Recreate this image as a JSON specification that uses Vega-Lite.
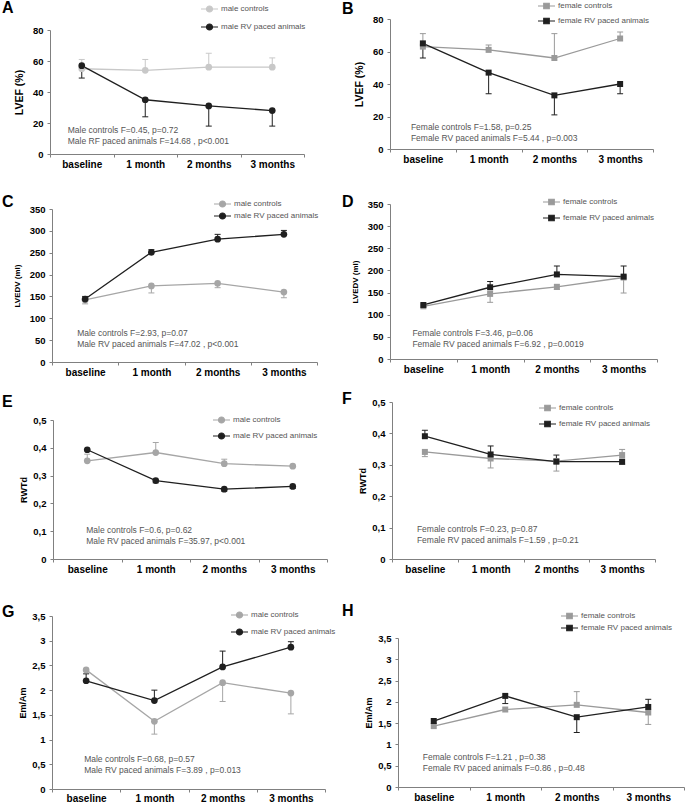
{
  "$schema": "https://vega.github.io/schema/vega-lite/v6.json",
  "padding": 0,
  "background": "white",
  "columns": 2,
  "spacing": 0,
  "bounds": "flush",
  "align": "each",
  "resolve": {"scale": {"color": "independent", "x": "independent", "y": "independent"}, "legend": {"color": "independent"}},
  "datasets": {
    "A": [
      {"time": "baseline", "group": "male controls", "mean": 55, "err": 61},
      {"time": "1 month", "group": "male controls", "mean": 54, "err": 61},
      {"time": "2 months", "group": "male controls", "mean": 56, "err": 65},
      {"time": "3 months", "group": "male controls", "mean": 56, "err": 62},
      {"time": "baseline", "group": "male RV paced animals", "mean": 57, "err": 49},
      {"time": "1 month", "group": "male RV paced animals", "mean": 35, "err": 24},
      {"time": "2 months", "group": "male RV paced animals", "mean": 31, "err": 18},
      {"time": "3 months", "group": "male RV paced animals", "mean": 28, "err": 18}
    ],
    "B": [
      {"time": "baseline", "group": "female controls", "mean": 63, "err": 71},
      {"time": "1 month", "group": "female controls", "mean": 61, "err": 64},
      {"time": "2 months", "group": "female controls", "mean": 56, "err": 71},
      {"time": "3 months", "group": "female controls", "mean": 68, "err": 72},
      {"time": "baseline", "group": "female RV paced animals", "mean": 65, "err": 56},
      {"time": "1 month", "group": "female RV paced animals", "mean": 47, "err": 34},
      {"time": "2 months", "group": "female RV paced animals", "mean": 33, "err": 21},
      {"time": "3 months", "group": "female RV paced animals", "mean": 40, "err": 34}
    ],
    "C": [
      {"time": "baseline", "group": "male controls", "mean": 142, "err": 133},
      {"time": "1 month", "group": "male controls", "mean": 174, "err": 158},
      {"time": "2 months", "group": "male controls", "mean": 180, "err": 170},
      {"time": "3 months", "group": "male controls", "mean": 160, "err": 147},
      {"time": "baseline", "group": "male RV paced animals", "mean": 144, "err": 150},
      {"time": "1 month", "group": "male RV paced animals", "mean": 251, "err": 257},
      {"time": "2 months", "group": "male RV paced animals", "mean": 281, "err": 292},
      {"time": "3 months", "group": "male RV paced animals", "mean": 292, "err": 301}
    ],
    "D": [
      {"time": "baseline", "group": "female controls", "mean": 119, "err": null},
      {"time": "1 month", "group": "female controls", "mean": 147, "err": 128},
      {"time": "2 months", "group": "female controls", "mean": 163, "err": 157},
      {"time": "3 months", "group": "female controls", "mean": 184, "err": 149},
      {"time": "baseline", "group": "female RV paced animals", "mean": 122, "err": null},
      {"time": "1 month", "group": "female RV paced animals", "mean": 162, "err": 175},
      {"time": "2 months", "group": "female RV paced animals", "mean": 191, "err": 210},
      {"time": "3 months", "group": "female RV paced animals", "mean": 186, "err": 210}
    ],
    "E": [
      {"time": "baseline", "group": "male controls", "mean": 0.353, "err": 0.377},
      {"time": "1 month", "group": "male controls", "mean": 0.383, "err": 0.419},
      {"time": "2 months", "group": "male controls", "mean": 0.343, "err": 0.359},
      {"time": "3 months", "group": "male controls", "mean": 0.334, "err": 0.337},
      {"time": "baseline", "group": "male RV paced animals", "mean": 0.393, "err": null},
      {"time": "1 month", "group": "male RV paced animals", "mean": 0.282, "err": 0.274},
      {"time": "2 months", "group": "male RV paced animals", "mean": 0.251, "err": 0.244},
      {"time": "3 months", "group": "male RV paced animals", "mean": 0.261, "err": 0.254}
    ],
    "F": [
      {"time": "baseline", "group": "female controls", "mean": 0.341, "err": 0.326},
      {"time": "1 month", "group": "female controls", "mean": 0.320, "err": 0.290},
      {"time": "2 months", "group": "female controls", "mean": 0.312, "err": 0.280},
      {"time": "3 months", "group": "female controls", "mean": 0.331, "err": 0.349},
      {"time": "baseline", "group": "female RV paced animals", "mean": 0.391, "err": 0.410},
      {"time": "1 month", "group": "female RV paced animals", "mean": 0.333, "err": 0.360},
      {"time": "2 months", "group": "female RV paced animals", "mean": 0.310, "err": 0.331},
      {"time": "3 months", "group": "female RV paced animals", "mean": 0.310, "err": 0.302}
    ],
    "G": [
      {"time": "baseline", "group": "male controls", "mean": 2.41, "err": null},
      {"time": "1 month", "group": "male controls", "mean": 1.37, "err": 1.11},
      {"time": "2 months", "group": "male controls", "mean": 2.15, "err": 1.77},
      {"time": "3 months", "group": "male controls", "mean": 1.94, "err": 1.52},
      {"time": "baseline", "group": "male RV paced animals", "mean": 2.19, "err": 2.33},
      {"time": "1 month", "group": "male RV paced animals", "mean": 1.79, "err": 2.0},
      {"time": "2 months", "group": "male RV paced animals", "mean": 2.47, "err": 2.79},
      {"time": "3 months", "group": "male RV paced animals", "mean": 2.87, "err": 2.98}
    ],
    "H": [
      {"time": "baseline", "group": "female controls", "mean": 1.43, "err": null},
      {"time": "1 month", "group": "female controls", "mean": 1.82, "err": null},
      {"time": "2 months", "group": "female controls", "mean": 1.93, "err": 2.24},
      {"time": "3 months", "group": "female controls", "mean": 1.75, "err": 1.47},
      {"time": "baseline", "group": "female RV paced animals", "mean": 1.55, "err": null},
      {"time": "1 month", "group": "female RV paced animals", "mean": 2.14, "err": 1.96},
      {"time": "2 months", "group": "female RV paced animals", "mean": 1.64, "err": 1.28},
      {"time": "3 months", "group": "female RV paced animals", "mean": 1.88, "err": 2.06}
    ]
  },
  "concat": [
    {
      "width": 342, "height": 190,
      "title": {"text": "A", "anchor": "start", "frame": "group", "offset": -16, "dx": 2},
      "data": {"name": "A"},
      "encoding": {
        "x": {"field": "time", "type": "ordinal", "sort": ["baseline", "1 month", "2 months", "3 months"],
              "scale": {"type": "band", "paddingInner": 0, "paddingOuter": 0, "range": [50, 304]},
              "axis": {"offset": -36, "title": null, "tickBand": "extent", "labelAngle": 0}},
        "color": {"field": "group", "type": "nominal",
                  "scale": {"domain": ["male controls", "male RV paced animals"], "range": ["#c8c8c8", "#1f1f1f"]},
                  "legend": {"orient": "none", "legendX": 203.5, "legendY": 3, "title": null, "rowPadding": 6,
                             "symbolType": "M-1.7,0H1.7M0.6,0A0.6,0.6,0,1,1,-0.6,0A0.6,0.6,0,1,1,0.6,0Z",
                             "encode": {"symbols": {"update": {"fill": {"signal": "indexof(datum.value,'controls')>=0?'#c8c8c8':'#1f1f1f'"}, "stroke": {"signal": "indexof(datum.value,'controls')>=0?'#c8c8c8':'#1f1f1f'"}, "strokeWidth": {"value": 1.2}, "opacity": {"value": 1}}}}}}
      },
      "layer": [
        {"mark": {"type": "line", "strokeWidth": 1.3},
         "encoding": {"y": {"field": "mean", "type": "quantitative", "scale": {"domain": [0, 80], "range": [154, 30]},
                            "axis": {"offset": -50, "values": [0, 20, 40, 60, 80], "tickCount": 20, "title": "LVEF (%)", "titleFontSize": 10.5}},
                      "order": {"value": null}}},
        {"transform": [{"filter": "isValid(datum.err)"}], "mark": {"type": "rule", "strokeWidth": 1},
         "encoding": {"y": {"field": "mean", "type": "quantitative"}, "y2": {"field": "err"}}},
        {"transform": [{"filter": "isValid(datum.err)"}], "mark": {"type": "tick", "size": 6, "thickness": 1, "opacity": 1},
         "encoding": {"y": {"field": "err", "type": "quantitative"}}},
        {"mark": {"type": "point", "filled": true, "shape": "circle", "size": 45, "opacity": 1},
         "encoding": {"y": {"field": "mean", "type": "quantitative"}}},
        {"data": {"values": [{"note": "Male controls F=0.45, p=0.72\nMale RF paced animals F=14.68 , p<0.001"}]},
         "mark": {"type": "text", "lineBreak": "\n", "align": "left", "baseline": "top", "dx": -14, "fontSize": 8.5, "lineHeight": 11, "color": "#555555"},
         "encoding": {"x": {"datum": "baseline"}, "y": {"datum": 18}, "text": {"field": "note"}, "color": {"value": "#555555"}}}
      ]
    },
    {
      "width": 343, "height": 190,
      "title": {"text": "B", "anchor": "start", "frame": "group", "offset": -17, "dx": 0},
      "data": {"name": "B"},
      "encoding": {
        "x": {"field": "time", "type": "ordinal", "sort": ["baseline", "1 month", "2 months", "3 months"],
              "scale": {"type": "band", "paddingInner": 0, "paddingOuter": 0, "range": [48, 311]},
              "axis": {"offset": -41, "title": null, "tickBand": "extent", "labelAngle": 0}},
        "color": {"field": "group", "type": "nominal",
                  "scale": {"domain": ["female controls", "female RV paced animals"], "range": ["#9a9a9a", "#1f1f1f"]},
                  "legend": {"orient": "none", "legendX": 198.5, "legendY": 0, "title": null, "rowPadding": 3,
                             "symbolType": "M-1.7,0H1.7M-0.55,-0.55H0.55V0.55H-0.55Z",
                             "encode": {"symbols": {"update": {"fill": {"signal": "indexof(datum.value,'controls')>=0?'#9a9a9a':'#1f1f1f'"}, "stroke": {"signal": "indexof(datum.value,'controls')>=0?'#9a9a9a':'#1f1f1f'"}, "strokeWidth": {"value": 1.2}, "opacity": {"value": 1}}}}}}
      },
      "layer": [
        {"mark": {"type": "line", "strokeWidth": 1.3},
         "encoding": {"y": {"field": "mean", "type": "quantitative", "scale": {"domain": [0, 80], "range": [149, 19]},
                            "axis": {"offset": -48, "values": [0, 20, 40, 60, 80], "tickCount": 20, "title": "LVEF (%)", "titleFontSize": 10.5}},
                      "order": {"value": null}}},
        {"transform": [{"filter": "isValid(datum.err)"}], "mark": {"type": "rule", "strokeWidth": 1},
         "encoding": {"y": {"field": "mean", "type": "quantitative"}, "y2": {"field": "err"}}},
        {"transform": [{"filter": "isValid(datum.err)"}], "mark": {"type": "tick", "size": 6, "thickness": 1, "opacity": 1},
         "encoding": {"y": {"field": "err", "type": "quantitative"}}},
        {"mark": {"type": "point", "filled": true, "shape": "square", "size": 36, "opacity": 1},
         "encoding": {"y": {"field": "mean", "type": "quantitative"}}},
        {"data": {"values": [{"note": "Female controls F=1.58, p=0.25\nFemale RV paced animals F=5.44 , p=0.003"}]},
         "mark": {"type": "text", "lineBreak": "\n", "align": "left", "baseline": "top", "dx": -12, "fontSize": 8.5, "lineHeight": 11, "color": "#555555"},
         "encoding": {"x": {"datum": "baseline"}, "y": {"datum": 16}, "text": {"field": "note"}, "color": {"value": "#555555"}}}
      ]
    },
    {
      "width": 342, "height": 200,
      "title": {"text": "C", "anchor": "start", "frame": "group", "offset": -20, "dx": 2},
      "data": {"name": "C"},
      "encoding": {
        "x": {"field": "time", "type": "ordinal", "sort": ["baseline", "1 month", "2 months", "3 months"],
              "scale": {"type": "band", "paddingInner": 0, "paddingOuter": 0, "range": [52, 317]},
              "axis": {"offset": -28, "title": null, "tickBand": "extent", "labelAngle": 0}},
        "color": {"field": "group", "type": "nominal",
                  "scale": {"domain": ["male controls", "male RV paced animals"], "range": ["#a6a6a6", "#1f1f1f"]},
                  "legend": {"orient": "none", "legendX": 216.5, "legendY": 8, "title": null, "rowPadding": -1,
                             "symbolType": "M-1.7,0H1.7M0.6,0A0.6,0.6,0,1,1,-0.6,0A0.6,0.6,0,1,1,0.6,0Z",
                             "encode": {"symbols": {"update": {"fill": {"signal": "indexof(datum.value,'controls')>=0?'#a6a6a6':'#1f1f1f'"}, "stroke": {"signal": "indexof(datum.value,'controls')>=0?'#a6a6a6':'#1f1f1f'"}, "strokeWidth": {"value": 1.2}, "opacity": {"value": 1}}}}}}
      },
      "layer": [
        {"mark": {"type": "line", "strokeWidth": 1.3},
         "encoding": {"y": {"field": "mean", "type": "quantitative", "scale": {"domain": [0, 350], "range": [172, 19]},
                            "axis": {"offset": -52, "values": [0, 50, 100, 150, 200, 250, 300, 350], "tickCount": 20, "title": "LVEDV (ml)", "titleFontSize": 8}},
                      "order": {"value": null}}},
        {"transform": [{"filter": "isValid(datum.err)"}], "mark": {"type": "rule", "strokeWidth": 1},
         "encoding": {"y": {"field": "mean", "type": "quantitative"}, "y2": {"field": "err"}}},
        {"transform": [{"filter": "isValid(datum.err)"}], "mark": {"type": "tick", "size": 6, "thickness": 1, "opacity": 1},
         "encoding": {"y": {"field": "err", "type": "quantitative"}}},
        {"mark": {"type": "point", "filled": true, "shape": "circle", "size": 45, "opacity": 1},
         "encoding": {"y": {"field": "mean", "type": "quantitative"}}},
        {"data": {"values": [{"note": "Male controls F=2.93, p=0.07\nMale RV paced animals F=47.02 , p<0.001"}]},
         "mark": {"type": "text", "lineBreak": "\n", "align": "left", "baseline": "top", "dx": -8, "fontSize": 8.5, "lineHeight": 11, "color": "#555555"},
         "encoding": {"x": {"datum": "baseline"}, "y": {"datum": 76}, "text": {"field": "note"}, "color": {"value": "#555555"}}}
      ]
    },
    {
      "width": 343, "height": 200,
      "title": {"text": "D", "anchor": "start", "frame": "group", "offset": -20, "dx": 0},
      "data": {"name": "D"},
      "encoding": {
        "x": {"field": "time", "type": "ordinal", "sort": ["baseline", "1 month", "2 months", "3 months"],
              "scale": {"type": "band", "paddingInner": 0, "paddingOuter": 0, "range": [48, 315]},
              "axis": {"offset": -31, "title": null, "tickBand": "extent", "labelAngle": 0}},
        "color": {"field": "group", "type": "nominal",
                  "scale": {"domain": ["female controls", "female RV paced animals"], "range": ["#9a9a9a", "#1f1f1f"]},
                  "legend": {"orient": "none", "legendX": 203.5, "legendY": 6, "title": null, "rowPadding": 4,
                             "symbolType": "M-1.7,0H1.7M-0.55,-0.55H0.55V0.55H-0.55Z",
                             "encode": {"symbols": {"update": {"fill": {"signal": "indexof(datum.value,'controls')>=0?'#9a9a9a':'#1f1f1f'"}, "stroke": {"signal": "indexof(datum.value,'controls')>=0?'#9a9a9a':'#1f1f1f'"}, "strokeWidth": {"value": 1.2}, "opacity": {"value": 1}}}}}}
      },
      "layer": [
        {"mark": {"type": "line", "strokeWidth": 1.3},
         "encoding": {"y": {"field": "mean", "type": "quantitative", "scale": {"domain": [0, 350], "range": [169, 14]},
                            "axis": {"offset": -48, "values": [0, 50, 100, 150, 200, 250, 300, 350], "tickCount": 20, "title": "LVEDV (ml)", "titleFontSize": 8}},
                      "order": {"value": null}}},
        {"transform": [{"filter": "isValid(datum.err)"}], "mark": {"type": "rule", "strokeWidth": 1},
         "encoding": {"y": {"field": "mean", "type": "quantitative"}, "y2": {"field": "err"}}},
        {"transform": [{"filter": "isValid(datum.err)"}], "mark": {"type": "tick", "size": 6, "thickness": 1, "opacity": 1},
         "encoding": {"y": {"field": "err", "type": "quantitative"}}},
        {"mark": {"type": "point", "filled": true, "shape": "square", "size": 36, "opacity": 1},
         "encoding": {"y": {"field": "mean", "type": "quantitative"}}},
        {"data": {"values": [{"note": "Female controls F=3.46, p=0.06\nFemale RV paced animals F=6.92 , p=0.0019"}]},
         "mark": {"type": "text", "lineBreak": "\n", "align": "left", "baseline": "top", "dx": -11, "fontSize": 8.5, "lineHeight": 11, "color": "#555555"},
         "encoding": {"x": {"datum": "baseline"}, "y": {"datum": 68}, "text": {"field": "note"}, "color": {"value": "#555555"}}}
      ]
    },
    {
      "width": 342, "height": 210,
      "title": {"text": "E", "anchor": "start", "frame": "group", "offset": -20, "dx": 2},
      "data": {"name": "E"},
      "encoding": {
        "x": {"field": "time", "type": "ordinal", "sort": ["baseline", "1 month", "2 months", "3 months"],
              "scale": {"type": "band", "paddingInner": 0, "paddingOuter": 0, "range": [53, 327]},
              "axis": {"offset": -41, "title": null, "tickBand": "extent", "labelAngle": 0}},
        "color": {"field": "group", "type": "nominal",
                  "scale": {"domain": ["male controls", "male RV paced animals"], "range": ["#a6a6a6", "#1f1f1f"]},
                  "legend": {"orient": "none", "legendX": 215.5, "legendY": 24, "title": null, "rowPadding": 4,
                             "symbolType": "M-1.7,0H1.7M0.6,0A0.6,0.6,0,1,1,-0.6,0A0.6,0.6,0,1,1,0.6,0Z",
                             "encode": {"symbols": {"update": {"fill": {"signal": "indexof(datum.value,'controls')>=0?'#a6a6a6':'#1f1f1f'"}, "stroke": {"signal": "indexof(datum.value,'controls')>=0?'#a6a6a6':'#1f1f1f'"}, "strokeWidth": {"value": 1.2}, "opacity": {"value": 1}}}}}}
      },
      "layer": [
        {"mark": {"type": "line", "strokeWidth": 1.3},
         "encoding": {"y": {"field": "mean", "type": "quantitative", "scale": {"domain": [0, 0.5], "range": [169, 30]},
                            "axis": {"offset": -53, "values": [0, 0.1, 0.2, 0.3, 0.4, 0.5], "tickCount": 20, "labelExpr": "replace(toString(datum.value), '.', ',')", "title": "RWTd", "titleFontSize": 9, "titlePadding": 4}},
                      "order": {"value": null}}},
        {"transform": [{"filter": "isValid(datum.err)"}], "mark": {"type": "rule", "strokeWidth": 1},
         "encoding": {"y": {"field": "mean", "type": "quantitative"}, "y2": {"field": "err"}}},
        {"transform": [{"filter": "isValid(datum.err)"}], "mark": {"type": "tick", "size": 6, "thickness": 1, "opacity": 1},
         "encoding": {"y": {"field": "err", "type": "quantitative"}}},
        {"mark": {"type": "point", "filled": true, "shape": "circle", "size": 45, "opacity": 1},
         "encoding": {"y": {"field": "mean", "type": "quantitative"}}},
        {"data": {"values": [{"note": "Male controls F=0.6, p=0.62\nMale RV paced animals F=35.97, p<0.001"}]},
         "mark": {"type": "text", "lineBreak": "\n", "align": "left", "baseline": "top", "dx": -1, "fontSize": 8.5, "lineHeight": 11, "color": "#555555"},
         "encoding": {"x": {"datum": "baseline"}, "y": {"datum": 0.119}, "text": {"field": "note"}, "color": {"value": "#555555"}}}
      ]
    },
    {
      "width": 343, "height": 210,
      "title": {"text": "F", "anchor": "start", "frame": "group", "offset": -17, "dx": 0},
      "data": {"name": "F"},
      "encoding": {
        "x": {"field": "time", "type": "ordinal", "sort": ["baseline", "1 month", "2 months", "3 months"],
              "scale": {"type": "band", "paddingInner": 0, "paddingOuter": 0, "range": [50, 313]},
              "axis": {"offset": -41, "title": null, "tickBand": "extent", "labelAngle": 0}},
        "color": {"field": "group", "type": "nominal",
                  "scale": {"domain": ["female controls", "female RV paced animals"], "range": ["#9a9a9a", "#1f1f1f"]},
                  "legend": {"orient": "none", "legendX": 199.5, "legendY": 12, "title": null, "rowPadding": 4,
                             "symbolType": "M-1.7,0H1.7M-0.55,-0.55H0.55V0.55H-0.55Z",
                             "encode": {"symbols": {"update": {"fill": {"signal": "indexof(datum.value,'controls')>=0?'#9a9a9a':'#1f1f1f'"}, "stroke": {"signal": "indexof(datum.value,'controls')>=0?'#9a9a9a':'#1f1f1f'"}, "strokeWidth": {"value": 1.2}, "opacity": {"value": 1}}}}}}
      },
      "layer": [
        {"mark": {"type": "line", "strokeWidth": 1.3},
         "encoding": {"y": {"field": "mean", "type": "quantitative", "scale": {"domain": [0, 0.5], "range": [169, 12]},
                            "axis": {"offset": -50, "values": [0, 0.1, 0.2, 0.3, 0.4, 0.5], "tickCount": 20, "labelExpr": "replace(toString(datum.value), '.', ',')", "title": "RWTd", "titleFontSize": 9, "titlePadding": 4}},
                      "order": {"value": null}}},
        {"transform": [{"filter": "isValid(datum.err)"}], "mark": {"type": "rule", "strokeWidth": 1},
         "encoding": {"y": {"field": "mean", "type": "quantitative"}, "y2": {"field": "err"}}},
        {"transform": [{"filter": "isValid(datum.err)"}], "mark": {"type": "tick", "size": 6, "thickness": 1, "opacity": 1},
         "encoding": {"y": {"field": "err", "type": "quantitative"}}},
        {"mark": {"type": "point", "filled": true, "shape": "square", "size": 36, "opacity": 1},
         "encoding": {"y": {"field": "mean", "type": "quantitative"}}},
        {"data": {"values": [{"note": "Female controls F=0.23, p=0.87\nFemale RV paced animals F=1.59 , p=0.21"}]},
         "mark": {"type": "text", "lineBreak": "\n", "align": "left", "baseline": "top", "dx": -8, "fontSize": 8.5, "lineHeight": 11, "color": "#555555"},
         "encoding": {"x": {"datum": "baseline"}, "y": {"datum": 0.108}, "text": {"field": "note"}, "color": {"value": "#555555"}}}
      ]
    },
    {
      "width": 342, "height": 207,
      "title": {"text": "G", "anchor": "start", "frame": "group", "offset": -20, "dx": 2},
      "data": {"name": "G"},
      "encoding": {
        "x": {"field": "time", "type": "ordinal", "sort": ["baseline", "1 month", "2 months", "3 months"],
              "scale": {"type": "band", "paddingInner": 0, "paddingOuter": 0, "range": [52, 325]},
              "axis": {"offset": -18, "title": null, "tickBand": "extent", "labelAngle": 0, "labelPadding": 1}},
        "color": {"field": "group", "type": "nominal",
                  "scale": {"domain": ["male controls", "male RV paced animals"], "range": ["#a6a6a6", "#1f1f1f"]},
                  "legend": {"orient": "none", "legendX": 233.5, "legendY": 9, "title": null, "rowPadding": 5,
                             "symbolType": "M-1.7,0H1.7M0.6,0A0.6,0.6,0,1,1,-0.6,0A0.6,0.6,0,1,1,0.6,0Z",
                             "encode": {"symbols": {"update": {"fill": {"signal": "indexof(datum.value,'controls')>=0?'#a6a6a6':'#1f1f1f'"}, "stroke": {"signal": "indexof(datum.value,'controls')>=0?'#a6a6a6':'#1f1f1f'"}, "strokeWidth": {"value": 1.2}, "opacity": {"value": 1}}}}}}
      },
      "layer": [
        {"mark": {"type": "line", "strokeWidth": 1.3},
         "encoding": {"y": {"field": "mean", "type": "quantitative", "scale": {"domain": [0, 3.5], "range": [189, 16]},
                            "axis": {"offset": -52, "values": [0, 0.5, 1, 1.5, 2, 2.5, 3, 3.5], "tickCount": 20, "labelExpr": "replace(toString(datum.value), '.', ',')", "title": "Em/Am", "titleFontSize": 9, "titlePadding": 4}},
                      "order": {"value": null}}},
        {"transform": [{"filter": "isValid(datum.err)"}], "mark": {"type": "rule", "strokeWidth": 1},
         "encoding": {"y": {"field": "mean", "type": "quantitative"}, "y2": {"field": "err"}}},
        {"transform": [{"filter": "isValid(datum.err)"}], "mark": {"type": "tick", "size": 6, "thickness": 1, "opacity": 1},
         "encoding": {"y": {"field": "err", "type": "quantitative"}}},
        {"mark": {"type": "point", "filled": true, "shape": "circle", "size": 45, "opacity": 1},
         "encoding": {"y": {"field": "mean", "type": "quantitative"}}},
        {"data": {"values": [{"note": "Male controls F=0.68, p=0.57\nMale RV paced animals F=3.89 , p=0.013"}]},
         "mark": {"type": "text", "lineBreak": "\n", "align": "left", "baseline": "top", "dx": -2, "fontSize": 8.5, "lineHeight": 11, "color": "#555555"},
         "encoding": {"x": {"datum": "baseline"}, "y": {"datum": 0.68}, "text": {"field": "note"}, "color": {"value": "#555555"}}}
      ]
    },
    {
      "width": 343, "height": 207,
      "title": {"text": "H", "anchor": "start", "frame": "group", "offset": -19, "dx": 0},
      "data": {"name": "H"},
      "encoding": {
        "x": {"field": "time", "type": "ordinal", "sort": ["baseline", "1 month", "2 months", "3 months"],
              "scale": {"type": "band", "paddingInner": 0, "paddingOuter": 0, "range": [56, 342]},
              "axis": {"offset": -20, "title": null, "tickBand": "extent", "labelAngle": 0}},
        "color": {"field": "group", "type": "nominal",
                  "scale": {"domain": ["female controls", "female RV paced animals"], "range": ["#9a9a9a", "#1f1f1f"]},
                  "legend": {"orient": "none", "legendX": 221.5, "legendY": 10, "title": null, "rowPadding": 0,
                             "symbolType": "M-1.7,0H1.7M-0.55,-0.55H0.55V0.55H-0.55Z",
                             "encode": {"symbols": {"update": {"fill": {"signal": "indexof(datum.value,'controls')>=0?'#9a9a9a':'#1f1f1f'"}, "stroke": {"signal": "indexof(datum.value,'controls')>=0?'#9a9a9a':'#1f1f1f'"}, "strokeWidth": {"value": 1.2}, "opacity": {"value": 1}}}}}}
      },
      "layer": [
        {"mark": {"type": "line", "strokeWidth": 1.3},
         "encoding": {"y": {"field": "mean", "type": "quantitative", "scale": {"domain": [0, 3.5], "range": [187, 38]},
                            "axis": {"offset": -56, "values": [0, 0.5, 1, 1.5, 2, 2.5, 3, 3.5], "tickCount": 20, "labelExpr": "replace(toString(datum.value), '.', ',')", "title": "Em/Am", "titleFontSize": 9, "titlePadding": 4}},
                      "order": {"value": null}}},
        {"transform": [{"filter": "isValid(datum.err)"}], "mark": {"type": "rule", "strokeWidth": 1},
         "encoding": {"y": {"field": "mean", "type": "quantitative"}, "y2": {"field": "err"}}},
        {"transform": [{"filter": "isValid(datum.err)"}], "mark": {"type": "tick", "size": 6, "thickness": 1, "opacity": 1},
         "encoding": {"y": {"field": "err", "type": "quantitative"}}},
        {"mark": {"type": "point", "filled": true, "shape": "square", "size": 36, "opacity": 1},
         "encoding": {"y": {"field": "mean", "type": "quantitative"}}},
        {"data": {"values": [{"note": "Female controls F=1.21 , p=0.38\nFemale RV paced animals F=0.86 , p=0.48"}]},
         "mark": {"type": "text", "lineBreak": "\n", "align": "left", "baseline": "top", "dx": -11, "fontSize": 8.5, "lineHeight": 11, "color": "#555555"},
         "encoding": {"x": {"datum": "baseline"}, "y": {"datum": 0.8}, "text": {"field": "note"}, "color": {"value": "#555555"}}}
      ]
    }
  ],
  "config": {
    "view": {"stroke": null, "fill": "white"},
    "font": "Liberation Sans",
    "title": {"fontSize": 16, "fontWeight": "bold", "color": "#000000", "font": "Liberation Sans"},
    "axis": {"domainColor": "#808080", "tickColor": "#808080", "labelFont": "Liberation Sans", "titleFont": "Liberation Sans",
             "labelColor": "#000000", "titleColor": "#000000", "labelFontWeight": "bold", "titleFontWeight": "bold", "grid": false,
             "domainWidth": 1, "tickWidth": 1, "labelOverlap": false},
    "axisX": {"tickSize": 3, "labelPadding": 2, "labelFontSize": 10},
    "axisY": {"tickSize": 3, "labelPadding": 4, "labelFontSize": 9.5, "titlePadding": 8},
    "legend": {"symbolSize": 100, "padding": 0, "labelOffset": 5.5, "labelFont": "Liberation Sans", "labelFontSize": 8, "labelColor": "#555555"},
    "text": {"font": "Liberation Sans"}
  }
}
